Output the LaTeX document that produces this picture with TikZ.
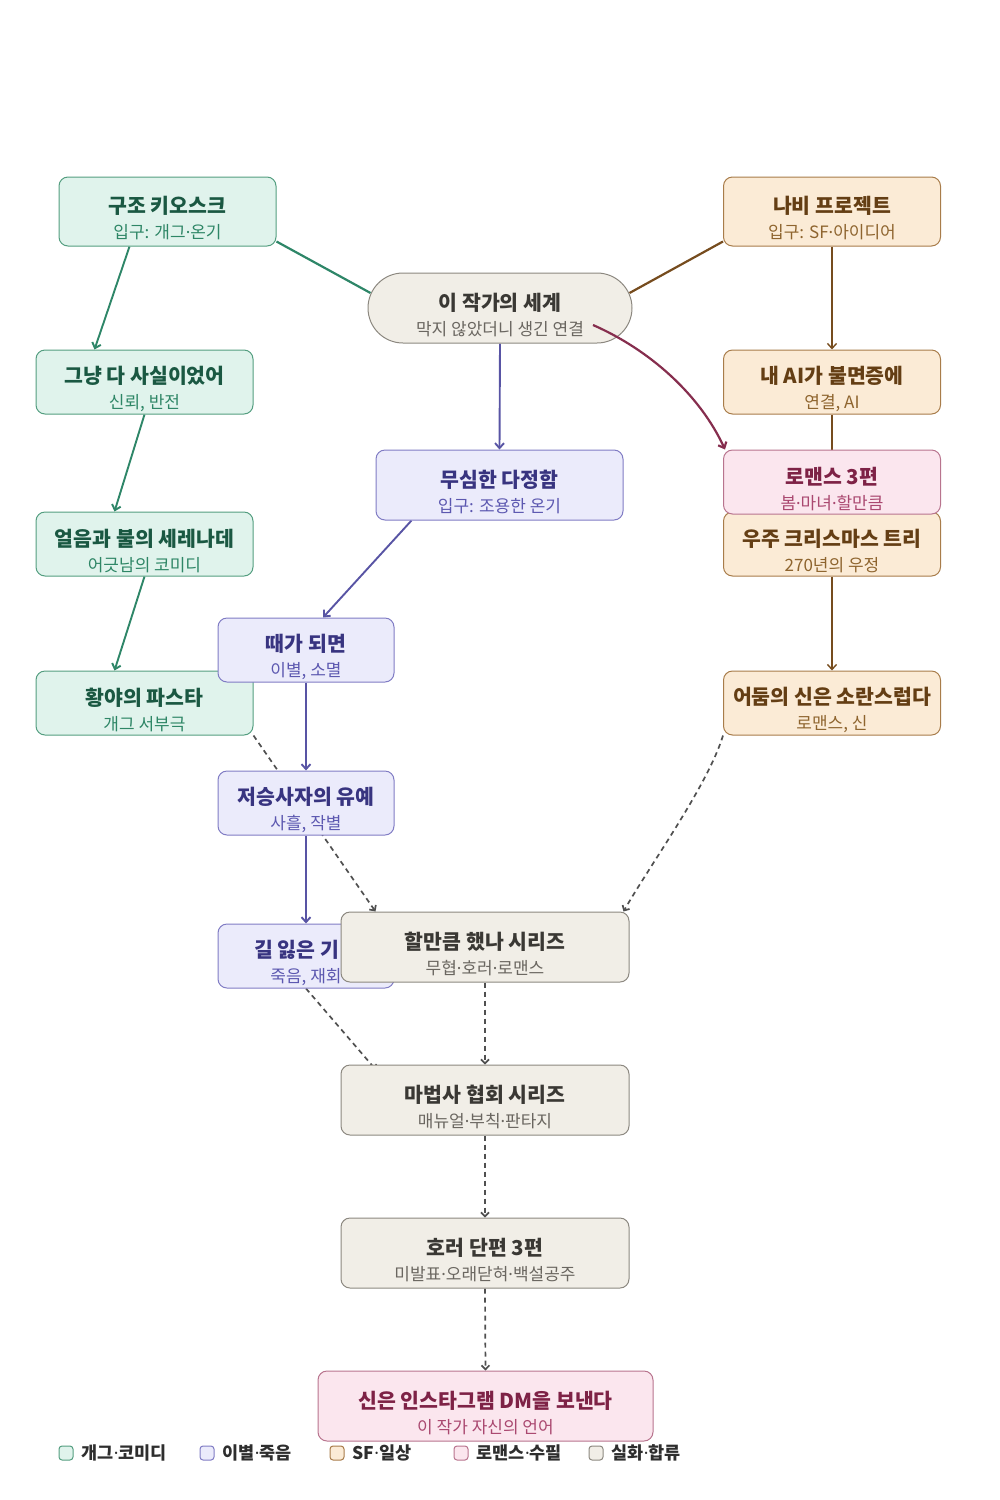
\documentclass[tikz,border=0pt]{standalone}
\usepackage{fontspec}
\setmainfont{Noto Sans CJK KR}
\newfontfamily\latinfont{Noto Sans}
\usetikzlibrary{arrows.meta,calc,backgrounds,positioning}

\definecolor{gagfill}{RGB}{224,243,236}
\definecolor{gagline}{RGB}{84,158,128}
\definecolor{gagtext}{RGB}{26,88,66}
\definecolor{gagsub}{RGB}{46,134,102}
\definecolor{gagedge}{RGB}{46,134,104}
\definecolor{partfill}{RGB}{235,235,251}
\definecolor{partline}{RGB}{128,124,196}
\definecolor{parttext}{RGB}{56,52,128}
\definecolor{partsub}{RGB}{92,88,176}
\definecolor{partedge}{RGB}{88,84,164}
\definecolor{sffill}{RGB}{251,235,214}
\definecolor{sfline}{RGB}{168,124,74}
\definecolor{sftext}{RGB}{100,62,20}
\definecolor{sfsub}{RGB}{142,100,46}
\definecolor{sfedge}{RGB}{118,76,30}
\definecolor{romfill}{RGB}{251,230,238}
\definecolor{romline}{RGB}{184,116,142}
\definecolor{romtext}{RGB}{126,34,70}
\definecolor{romsub}{RGB}{170,72,112}
\definecolor{romedge}{RGB}{134,46,78}
\definecolor{mergefill}{RGB}{241,238,231}
\definecolor{mergeline}{RGB}{140,136,128}
\definecolor{mergetext}{RGB}{58,56,52}
\definecolor{mergesub}{RGB}{106,102,96}
\definecolor{flowgray}{RGB}{80,80,80}

\newcommand{\mdot}{{\latinfont ·}}
\newcommand{\cardtext}[2]{{\fontsize{20.5}{25}\selectfont\bfseries\rule{0pt}{31pt}#1}\\{\color{subc}#2}}

\tikzset{every picture/.style={line width=1pt}}
\tikzset{
  card/.style={rectangle, rounded corners=9pt, draw, line width=1pt, align=center, inner sep=0pt,
    minimum width=217pt, minimum height=64pt, font=\fontsize{17}{25}\selectfont},
  gag/.style={card, fill=gagfill, draw=gagline, text=gagtext, execute at begin node={\colorlet{subc}{gagsub}}},
  parting/.style={card, fill=partfill, draw=partline, text=parttext, execute at begin node={\colorlet{subc}{partsub}}},
  sfday/.style={card, fill=sffill, draw=sfline, text=sftext, execute at begin node={\colorlet{subc}{sfsub}}},
  romance/.style={card, fill=romfill, draw=romline, text=romtext, execute at begin node={\colorlet{subc}{romsub}}},
  merge/.style={card, fill=mergefill, draw=mergeline, text=mergetext, execute at begin node={\colorlet{subc}{mergesub}}},
  link/.style={line width=1.9pt, -{Straight Barb[length=5pt,width=9pt]}},
  flow/.style={flowgray, line width=1.7pt, dash pattern=on 5pt off 4pt, -{Straight Barb[length=4pt,width=8pt]}},
  legkey/.style={rectangle, rounded corners=3pt, draw, line width=1pt, minimum size=14pt, inner sep=0pt},
  legtext/.style={font=\fontsize{17.5}{20}\selectfont\bfseries, text=black!82, inner sep=0pt}
}

\begin{document}
\begin{tikzpicture}[x=1pt,y=1pt,yscale=-1,xscale=1]
	\useasboundingbox (0,0) rectangle (1000,1500);

	%Center
	\node[merge, rounded corners=35pt, minimum width=264pt, minimum height=70pt] (world) at (500,308) {\cardtext{이 작가의 세계}{막지 않았더니 생긴 연결}};

	%Left column: gag
	\node[gag, minimum height=69pt] (kiosk) at (167.5,211.5) {\cardtext{구조 키오스크}{입구: 개그\mdot 온기}};
	\node[gag] (fact) at (144.5,382) {\cardtext{그냥 다 사실이었어}{신뢰, 반전}};
	\node[gag] (ice) at (144.5,544) {\cardtext{얼음과 불의 세레나데}{어긋남의 코미디}};
	\node[gag] (hwang) at (144.5,703) {\cardtext{황야의 파스타}{개그 서부극}};

	%Middle column: parting
	\node[parting, minimum width=247pt, minimum height=70pt] (mushim) at (499.5,485) {\cardtext{무심한 다정함}{입구: 조용한 온기}};
	\node[parting, minimum width=176pt] (ttae) at (306,650) {\cardtext{때가 되면}{이별, 소멸}};
	\node[parting, minimum width=176pt] (jeoseung) at (306,803) {\cardtext{저승사자의 유예}{사흘, 작별}};
	\node[parting, minimum width=176pt] (gil) at (306,956) {\cardtext{길 잃은 기\phantom{억}}{죽음, 재회}};

	%Right column: sf
	\node[sfday, minimum height=69pt] (nabi) at (832,211.5) {\cardtext{나비 프로젝트}{입구: SF\mdot 아이디어}};
	\node[sfday] (myai) at (832,382) {\cardtext{내 AI가 불면증에}{연결, AI}};
	\node[sfday] (xmas) at (832,544) {\cardtext{우주 크리스마스 트리}{270년의 우정}};
	\node[romance] (romance3) at (832,482) {\cardtext{로맨스 3편}{봄\mdot 마녀\mdot 할만큼}};
	\node[sfday] (darkgod) at (832,703) {\cardtext{어둠의 신은 소란스럽다}{로맨스, 신}};

	%Merge column
	\node[merge, minimum width=288pt, minimum height=70pt] (halman) at (485,947) {\cardtext{할만큼 했나 시리즈}{무협\mdot 호러\mdot 로맨스}};
	\node[merge, minimum width=288pt, minimum height=70pt] (mabeop) at (485,1100) {\cardtext{마법사 협회 시리즈}{매뉴얼\mdot 부칙\mdot 판타지}};
	\node[merge, minimum width=288pt, minimum height=70pt] (horror) at (485,1253) {\cardtext{호러 단편 3편}{미발표\mdot 오래닫혀\mdot 백설공주}};
	\node[romance, minimum width=335pt, minimum height=70pt] (dm) at (485.5,1406) {\cardtext{신은 인스타그램 DM을 보낸다}{이 작가 자신의 언어}};

	%Connectors
	\begin{pgfonlayer}{background}
		\draw[gagedge, line width=2.2pt] ($(kiosk.south east)+(0,-5)$) -- ($(world.west)+(3,-15)$);
		\draw[sfedge, line width=2.2pt] ($(nabi.south west)+(0,-5)$) -- ($(world.east)+(-3,-15)$);
		\draw[link, partedge] (world.south) -- (mushim.north);
		\draw[link, gagedge] ($(kiosk.south)+(-38,0)$) -- ($(fact.north)+(-50,0)$);
		\draw[link, gagedge] (fact.south) -- ($(ice.north)+(-30,0)$);
		\draw[link, gagedge] (ice.south) -- ($(hwang.north)+(-30,0)$);
		\draw[link, partedge] ($(mushim.south)+(-88,0)$) -- ($(ttae.north)+(17,0)$);
		\draw[link, partedge] (ttae.south) -- (jeoseung.north);
		\draw[link, partedge] (jeoseung.south) -- (gil.north);
		\draw[link, sfedge, line width=1.4pt] (nabi.south) -- (myai.north);
		\draw[link, sfedge, line width=1.4pt] (myai.south) -- (xmas.north);
		\draw[link, sfedge, line width=1.4pt] (xmas.south) -- (darkgod.north);
		\draw[flow] (hwang.south east) -- ($(halman.north west)+(35,0)$);
		\draw[flow] (darkgod.south west) .. controls (708,785) and (650,865) .. ($(halman.north east)+(-6,0)$);
		\draw[flow] (gil.south) -- ($(mabeop.north west)+(36,6)$);
		\draw[flow] (halman.south) -- (mabeop.north);
		\draw[flow] (mabeop.south) -- (horror.north);
		\draw[flow] (horror.south) -- (dm.north);
	\end{pgfonlayer}
	\draw[link, romedge, line width=2.2pt] ($(world.center)+(93,17)$) .. controls (650,350) and (700,395) .. ($(romance3.north west)+(2,0)$);

	%Legend
	\foreach \x/\f/\d/\t in {66/gagfill/gagline/개그\mdot 코미디, 207/partfill/partline/이별\mdot 죽음, 337/sffill/sfline/SF\mdot 일상, 461/romfill/romline/로맨스\mdot 수필, 596/mergefill/mergeline/실화\mdot 합류}{
		\node[legkey, fill=\f, draw=\d] (key-\x) at (\x,1453) {};
		\node[legtext, right=8pt of key-\x] (lab-\x) {\t};
	}

\end{tikzpicture}
\end{document}
